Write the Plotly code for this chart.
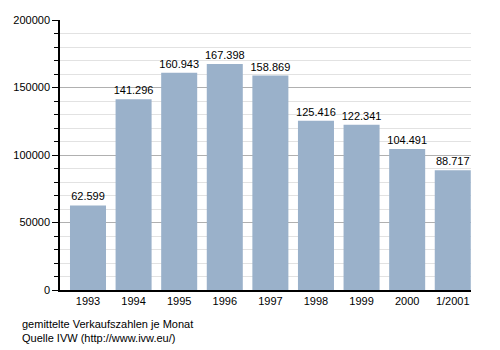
import plotly.graph_objects as go

years = ["1993", "1994", "1995", "1996", "1997", "1998", "1999", "2000", "1/2001"]
sales = [62599, 141296, 160943, 167398, 158869, 125416, 122341, 104491, 88717]
labels = ["62.599", "141.296", "160.943", "167.398", "158.869", "125.416", "122.341", "104.491", "88.717"]
footer = ["gemittelte Verkaufszahlen je Monat", "Quelle IVW (http://www.ivw.eu/)"]

fig = go.Figure(go.Bar(
    x=years, y=sales, text=labels, textposition="outside",
    textfont=dict(size=11, color="#000"), constraintext="none",
    marker=dict(color="#9ab1ca", line=dict(width=0)),
    cliponaxis=False,
))

fig.update_layout(
    width=500, height=350,
    margin=dict(l=60, r=29, t=20, b=60),
    paper_bgcolor="white", plot_bgcolor="white",
    font=dict(family="Liberation Sans, Arial, sans-serif", size=11, color="#000"),
    bargap=0.21,
    showlegend=False,
    xaxis=dict(showline=True, linecolor="#000", linewidth=1.5, ticks="", showgrid=False,
               range=[-0.614, 8.40], tickfont=dict(size=11)),
    yaxis=dict(range=[0, 200000], tickvals=[0, 50000, 100000, 150000, 200000],
               ticktext=["0", "50000", "100000", "150000", "200000"],
               showline=True, linecolor="#000", linewidth=1.5,
               ticks="outside", ticklen=6, tickcolor="#000",
               showgrid=True, gridcolor="#b0b0b0", gridwidth=1,
               zeroline=False,
               minor=dict(dtick=10000, ticks="outside", ticklen=4, tickcolor="#000",
                          showgrid=True, gridcolor="#e2e2e2", gridwidth=1),
               tickfont=dict(size=11)),
)

fig.add_annotation(text=footer[0] + "<br>" + footer[1], xref="paper", yref="paper",
                   x=-0.097, y=-0.098, xanchor="left", yanchor="top", showarrow=False,
                   align="left", font=dict(size=11, color="#000"))

fig.write_html("out.html")
